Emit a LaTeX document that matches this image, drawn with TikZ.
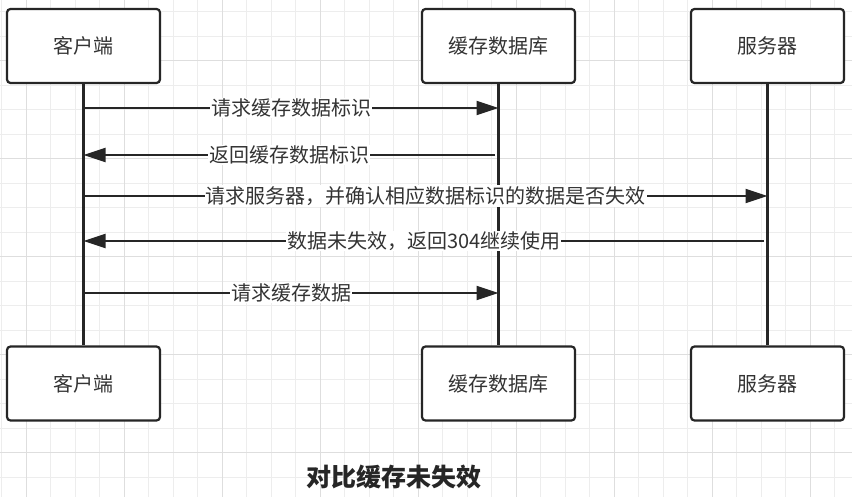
\documentclass[tikz,border=0pt]{standalone}
\usepackage{fontspec}
\setmainfont{Noto Sans CJK SC}
\usetikzlibrary{arrows.meta}
\tikzset{
  actor/.style={draw=black!85, line width=2.2pt, rounded corners=3.5pt, fill=white,
    minimum width=153pt, minimum height=74pt, text=black!80,
    font=\fontsize{20}{22}\selectfont},
  life/.style={draw=black!85, line width=2.2pt},
  msg/.style={draw=black!85, line width=2pt, -{Triangle[length=22pt,width=14pt]}},
  msglabel/.style={fill=white, inner sep=1pt, text=black!80,
    font=\fontsize{20}{22}\selectfont},
  minorgrid/.style={draw=black!7, line width=0.8pt},
  majorgrid/.style={draw=black!13, line width=0.9pt},
}
\begin{document}
\begin{tikzpicture}[x=1pt,y=-1pt]
  \useasboundingbox[fill=white] (0,0) rectangle (852,497);
  % background grid
  \foreach \gx in {1.8,26.3,...,852} \draw[minorgrid] (\gx,0) -- (\gx,497);
  \foreach \gy in {11.7,36.2,...,497} \draw[minorgrid] (0,\gy) -- (852,\gy);
  \foreach \gx in {26.3,124.3,...,852} \draw[majorgrid] (\gx,0) -- (\gx,497);
  \foreach \gy in {60.7,158.7,...,497} \draw[majorgrid] (0,\gy) -- (852,\gy);
  % participants
  \node[actor] (clientTop) at (83.5,46) {客户端};
  \node[actor] (cacheTop) at (498.5,46) {缓存数据库};
  \node[actor] (serverTop) at (767.5,46) {服务器};
  \node[actor] (clientBot) at (83.5,383.5) {客户端};
  \node[actor] (cacheBot) at (498.5,383.5) {缓存数据库};
  \node[actor] (serverBot) at (767.5,383.5) {服务器};
  \draw[life] (clientTop.south) -- (clientBot.north);
  \draw[life] (cacheTop.south) -- (cacheBot.north);
  \draw[life] (serverTop.south) -- (serverBot.north);
  % message ends on the lifelines
  \coordinate (m1a) at (83.5,108);
  \coordinate (m1b) at (498.5,108);
  \coordinate (m2a) at (495,155);
  \coordinate (m2b) at (83.5,155);
  \coordinate (m3a) at (83.5,196);
  \coordinate (m3b) at (767.5,196);
  \coordinate (m4a) at (764,241);
  \coordinate (m4b) at (83.5,241);
  \coordinate (m5a) at (83.5,293);
  \coordinate (m5b) at (498.5,293);
  \draw[msg] (m1a) -- node[msglabel] {请求缓存数据标识} (m1b);
  \draw[msg] (m2a) -- node[msglabel] {返回缓存数据标识} (m2b);
  \draw[msg] (m3a) -- node[msglabel] {请求服务器，并确认相应数据标识的数据是否失效} (m3b);
  \draw[msg] (m4a) -- node[msglabel] {数据未失效，返回304继续使用} (m4b);
  \draw[msg] (m5a) -- node[msglabel] {请求缓存数据} (m5b);
  % caption
  \node[text=black!85, font=\fontsize{25}{28}\selectfont\bfseries] (caption) at (394,477) {对比缓存未失效};
\end{tikzpicture}
\end{document}
